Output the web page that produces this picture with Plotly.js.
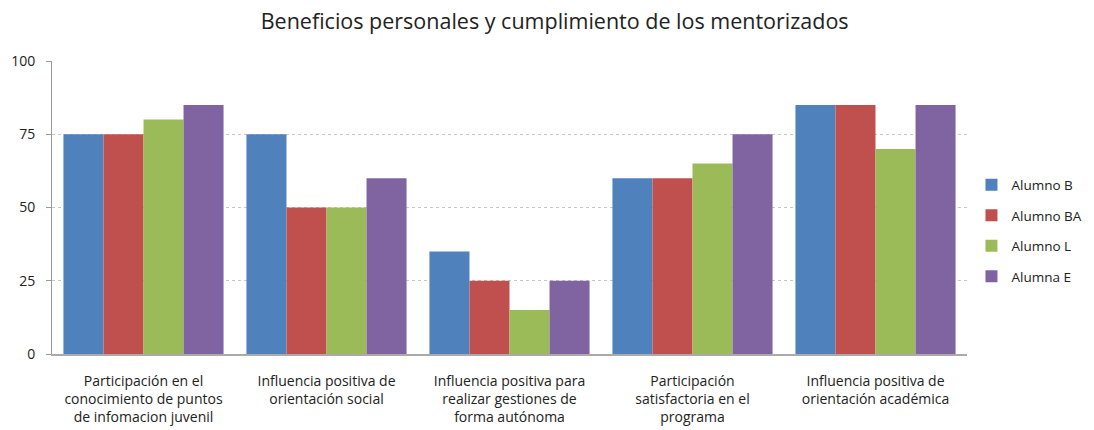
<!DOCTYPE html>
<html><head><meta charset="utf-8">
<script src="https://cdn.plot.ly/plotly-3.0.1.min.js"></script>
<style>html,body{margin:0;padding:0;background:#fff}#c{width:1094px;height:430px}</style>
</head><body><div id="c"></div>
<script>
const categories = [
  "Participación en el<br>conocimiento de puntos<br>de infomacion juvenil",
  "Influencia positiva de<br>orientación social",
  "Influencia positiva para<br>realizar gestiones de<br>forma autónoma",
  "Participación<br>satisfactoria en el<br>programa",
  "Influencia positiva de<br>orientación académica"
];
const seriesNames = ["Alumno B", "Alumno BA", "Alumno L", "Alumna E"];
const alumnoB  = [75, 75, 35, 60, 85];
const alumnoBA = [75, 50, 25, 60, 85];
const alumnoL  = [80, 50, 15, 65, 70];
const alumnaE  = [85, 60, 25, 75, 85];
const yTicks = [0, 25, 50, 75, 100];
const colors = ["#4F81BD", "#C0504D", "#9BBB59", "#8064A2"];

const values = [alumnoB, alumnoBA, alumnoL, alumnaE];
const traces = values.map((v, i) => ({
  type: "bar", x: categories, y: v, name: seriesNames[i],
  legendgroup: "g" + i,
  marker: {color: colors[i], line: {width: 0}},
  hoverinfo: "y+name"
}));

const fam = "Open Sans, Noto Sans, sans-serif";
const font = {family: fam, size: 14, color: "#222"};
const layout = {
  width: 1094, height: 430,
  margin: {l: 52, r: 127, t: 61, b: 76, autoexpand: false},
  paper_bgcolor: "#fff", plot_bgcolor: "#fff",
  font: font,
  title: {text: "Beneficios personales y cumplimiento de los mentorizados",
          font: {family: fam, size: 21.5, color: "#222"},
          x: 0.507, xref: "container", y: 0.95, yref: "container", xanchor: "center", yanchor: "middle"},
  barmode: "group", bargap: 0.125, bargroupgap: 0,
  showlegend: true,
  legend: {xref: "container", yref: "container", x: 0.888, xanchor: "left", y: 0.463, yanchor: "middle",
           font: {family: fam, size: 13.5, color: "#222"},
           tracegroupgap: 10, itemwidth: 30, traceorder: "grouped"},
  xaxis: {showline: true, linecolor: "#aaa", linewidth: 2, ticks: "", showgrid: false,
          tickfont: font, automargin: false, ticklabelstandoff: 13},
  yaxis: {range: [0, 100], tickvals: yTicks, ticktext: yTicks.map(String),
          showline: true, linecolor: "#999", linewidth: 1, ticks: "outside", ticklen: 5, tickcolor: "#999",
          showgrid: true, gridcolor: "#c8c8c8", griddash: "dot", gridwidth: 1, zeroline: false,
          tickfont: font, automargin: false, ticklabelstandoff: 8}
};
Plotly.newPlot("c", traces, layout, {displayModeBar: false, staticPlot: true});
</script></body></html>
